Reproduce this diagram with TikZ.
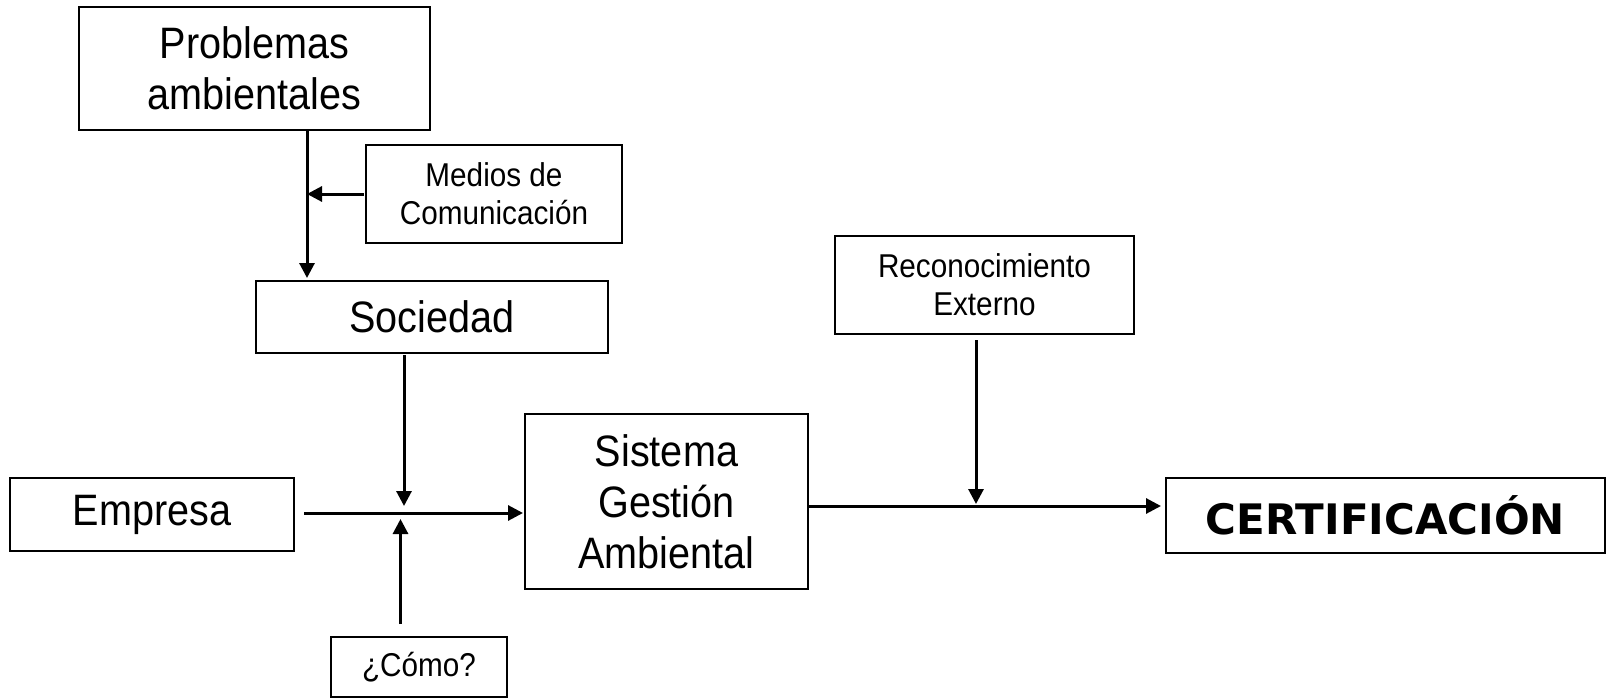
\documentclass[tikz,border=0pt]{standalone}
\usepackage{fontspec}
\setmainfont{Liberation Sans}[FakeStretch=0.9]
\newfontfamily\certfont{DejaVu Sans}[FakeStretch=1.0]
\usetikzlibrary{arrows.meta}
\tikzset{
  box/.style={draw, line width=2pt, align=center, inner sep=0pt},
  bigtxt/.style={font=\fontsize{44}{51}\selectfont},
  smalltxt/.style={font=\fontsize{33}{38}\selectfont},
  arr/.style={line width=3pt, -{Triangle[length=15pt,width=15pt]}}
}
\begin{document}
\begin{tikzpicture}[x=1pt,y=-1pt]
\useasboundingbox (0,0) rectangle (1606,698);
\node[box,bigtxt,minimum width=351pt,minimum height=123pt] (prob) at (254.5,68.5) {Problemas\\ambientales};
\node[box,smalltxt,minimum width=256pt,minimum height=98pt] (med) at (494,194) {Medios de\\Comunicación};
\node[box,bigtxt,minimum width=352pt,minimum height=72pt] (soc) at (432,317) {Sociedad};
\node[box,bigtxt,minimum width=284pt,minimum height=73pt] (emp) at (152,514.5) {Empresa};
\node[box,bigtxt,minimum width=283pt,minimum height=175pt] (sga) at (666.5,501.5) {Sistema\\Gestión\\Ambiental};
\node[box,smalltxt,minimum width=176pt,minimum height=60pt] (como) at (419,667) {¿Cómo?};
\node[box,smalltxt,minimum width=299pt,minimum height=98pt] (rec) at (984.5,285) {Reconocimiento\\Externo};
\node[box,minimum width=439pt,minimum height=75pt,font=\certfont\bfseries\fontsize{42}{48}\selectfont] (cert) at (1385.5,515.5) {CERTIFICACIÓN};
\coordinate (px) at (307,0);
\coordinate (jx) at (404,0);
\coordinate (cx) at (400.5,0);
\coordinate (rx) at (976,0);
\coordinate (ey) at (0,513);
\coordinate (sy) at (0,506);
\draw[arr] (prob.south -| px) -- (px |- 0,278);
\draw[arr] (364,0 |- med.west) -- (med.west -| px);
\draw[arr] (jx |- 0,355) -- (jx |- 0,506);
\draw[arr] (304,0 |- ey) -- (523,0 |- ey);
\draw[arr] (cx |- 0,624) -- (cx |- 0,519);
\draw[arr] (sga.east |- sy) -- (1161,0 |- sy);
\draw[arr] (rx |- 0,340) -- (rx |- 0,504);
\end{tikzpicture}
\end{document}
